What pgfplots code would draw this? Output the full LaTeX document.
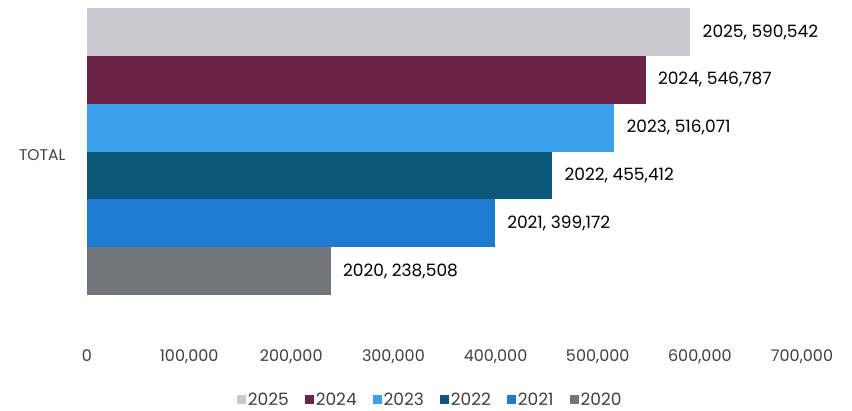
\documentclass[border=0pt]{standalone}
\usepackage{pgfplots}
\pgfplotsset{compat=1.18}
\usepackage{fontspec}
\setmainfont{Poppins}
\definecolor{c2025}{HTML}{C9C8CF}
\definecolor{c2024}{HTML}{6B2346}
\definecolor{c2023}{HTML}{3AA0EA}
\definecolor{c2022}{HTML}{0C5679}
\definecolor{c2021}{HTML}{1E7BD0}
\definecolor{c2020}{HTML}{74747C}
\definecolor{txt}{HTML}{404040}
\begin{document}
\begin{tikzpicture}
\begin{axis}[
  at={(0,0)}, anchor=south west,
  scale only axis, width=715pt, height=343pt,
  xmin=0, xmax=700000, ymin=-1.5, ymax=5.67,
  xtick={0,100000,...,700000},
  ytick={2.5}, yticklabels={TOTAL},
  scaled x ticks=false,
  /pgf/number format/assume math mode=true,
  xticklabel={\pgfmathprintnumber[fixed,precision=0,1000 sep={,}]{\tick}},
  axis line style={draw=none}, tick style={draw=none},
  text=txt,
  yticklabel style={xshift=-14pt, yshift=-3pt, font=\fontsize{15.5}{18}\selectfont},
  xticklabel style={yshift=-3pt, font=\fontsize{16}{19}\selectfont},
  xbar, bar width=1, bar shift=0pt,
  nodes near coords, point meta=explicit symbolic,
  every node near coord/.append style={anchor=west, xshift=9pt, text=black, font=\fontsize{17}{20}\selectfont},
  legend columns=6,
  legend style={at={(0.48,-0.166)}, anchor=center, draw=none, font=\fontsize{17}{20}\selectfont, text=txt,
    /tikz/every even column/.append style={column sep=14pt}},
  legend image code/.code={\fill[#1] (0pt,-4.5pt) rectangle (9pt,4.5pt);},
]
\addplot[fill=c2025, draw=none] coordinates {(590542,5) [{2025, 590,542}]};
\addplot[fill=c2024, draw=none] coordinates {(546787,4) [{2024, 546,787}]};
\addplot[fill=c2023, draw=none] coordinates {(516071,3) [{2023, 516,071}]};
\addplot[fill=c2022, draw=none] coordinates {(455412,2) [{2022, 455,412}]};
\addplot[fill=c2021, draw=none] coordinates {(399172,1) [{2021, 399,172}]};
\addplot[fill=c2020, draw=none] coordinates {(238508,0) [{2020, 238,508}]};
\legend{2025,2024,2023,2022,2021,2020}
\end{axis}
\path (-87pt,-66pt) rectangle (765pt,343pt);
\end{tikzpicture}
\end{document}
